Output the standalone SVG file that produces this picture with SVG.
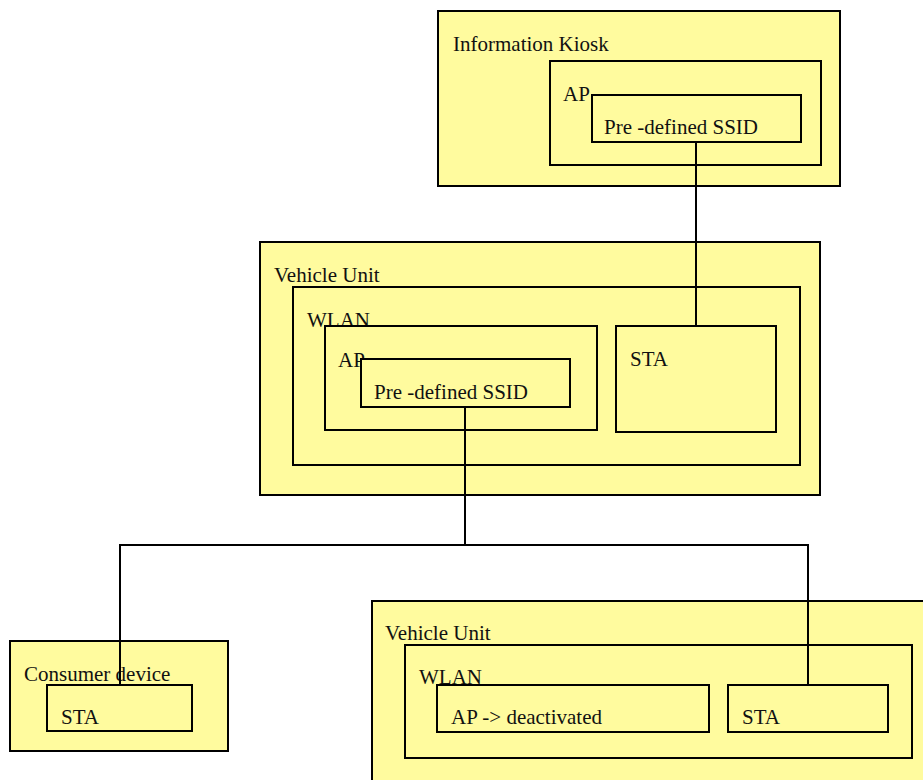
<svg xmlns="http://www.w3.org/2000/svg" width="923" height="780" viewBox="0 0 923 780">
  <style>
    .box { fill: #FFFB9E; stroke: #000; stroke-width: 2; }
    .lbl { font-family: "Liberation Serif", "Times New Roman", serif; font-size: 21px; fill: #111; }
    .wire { fill: none; stroke: #000; stroke-width: 2; }
  </style>
  <rect width="923" height="780" fill="#fff"/>

  <!-- Information Kiosk -->
  <g id="kiosk">
    <rect class="box" x="438" y="11" width="402" height="175"/>
    <text class="lbl" x="453" y="51">Information Kiosk</text>
    <g id="kiosk-ap">
      <rect class="box" x="550" y="61" width="271" height="104"/>
      <text class="lbl" x="563" y="101">AP</text>
      <g id="kiosk-ssid">
        <rect class="box" x="592" y="95" width="209" height="47"/>
        <text class="lbl" x="604" y="134">Pre -defined SSID</text>
      </g>
    </g>
  </g>

  <!-- Vehicle Unit (upper) -->
  <g id="vu1">
    <rect class="box" x="260" y="242" width="560" height="253"/>
    <text class="lbl" x="274" y="282">Vehicle Unit</text>
    <g id="vu1-wlan">
      <rect class="box" x="293" y="287" width="507" height="178"/>
      <text class="lbl" x="307" y="327">WLAN</text>
      <g id="vu1-ap">
        <rect class="box" x="325" y="326" width="272" height="104"/>
        <text class="lbl" x="338" y="367">AP</text>
        <g id="vu1-ssid">
          <rect class="box" x="361" y="359" width="209" height="48"/>
          <text class="lbl" x="374" y="399">Pre -defined SSID</text>
        </g>
      </g>
      <g id="vu1-sta">
        <rect class="box" x="616" y="326" width="160" height="106"/>
        <text class="lbl" x="630" y="366">STA</text>
      </g>
    </g>
  </g>

  <!-- Consumer device -->
  <g id="consumer">
    <rect class="box" x="10" y="641" width="218" height="110"/>
    <text class="lbl" x="24" y="681">Consumer device</text>
    <g id="consumer-sta">
      <rect class="box" x="47" y="685" width="145" height="46"/>
      <text class="lbl" x="61" y="724">STA</text>
    </g>
  </g>

  <!-- Vehicle Unit (lower) -->
  <g id="vu2">
    <rect class="box" x="372" y="601" width="560" height="190"/>
    <text class="lbl" x="385" y="640">Vehicle Unit</text>
    <g id="vu2-wlan">
      <rect class="box" x="405" y="645" width="507" height="113"/>
      <text class="lbl" x="419" y="684">WLAN</text>
      <g id="vu2-ap">
        <rect class="box" x="437" y="685" width="272" height="47"/>
        <text class="lbl" x="451" y="724">AP -&gt; deactivated</text>
      </g>
      <g id="vu2-sta">
        <rect class="box" x="728" y="685" width="160" height="47"/>
        <text class="lbl" x="742" y="724">STA</text>
      </g>
    </g>
  </g>

  <!-- Connectors -->
  <g id="connectors">
    <path class="wire" d="M696 142 V326"/>
    <path class="wire" d="M465 407 V545"/>
    <path class="wire" d="M120 686 V545 H808 V685"/>
  </g>
</svg>
